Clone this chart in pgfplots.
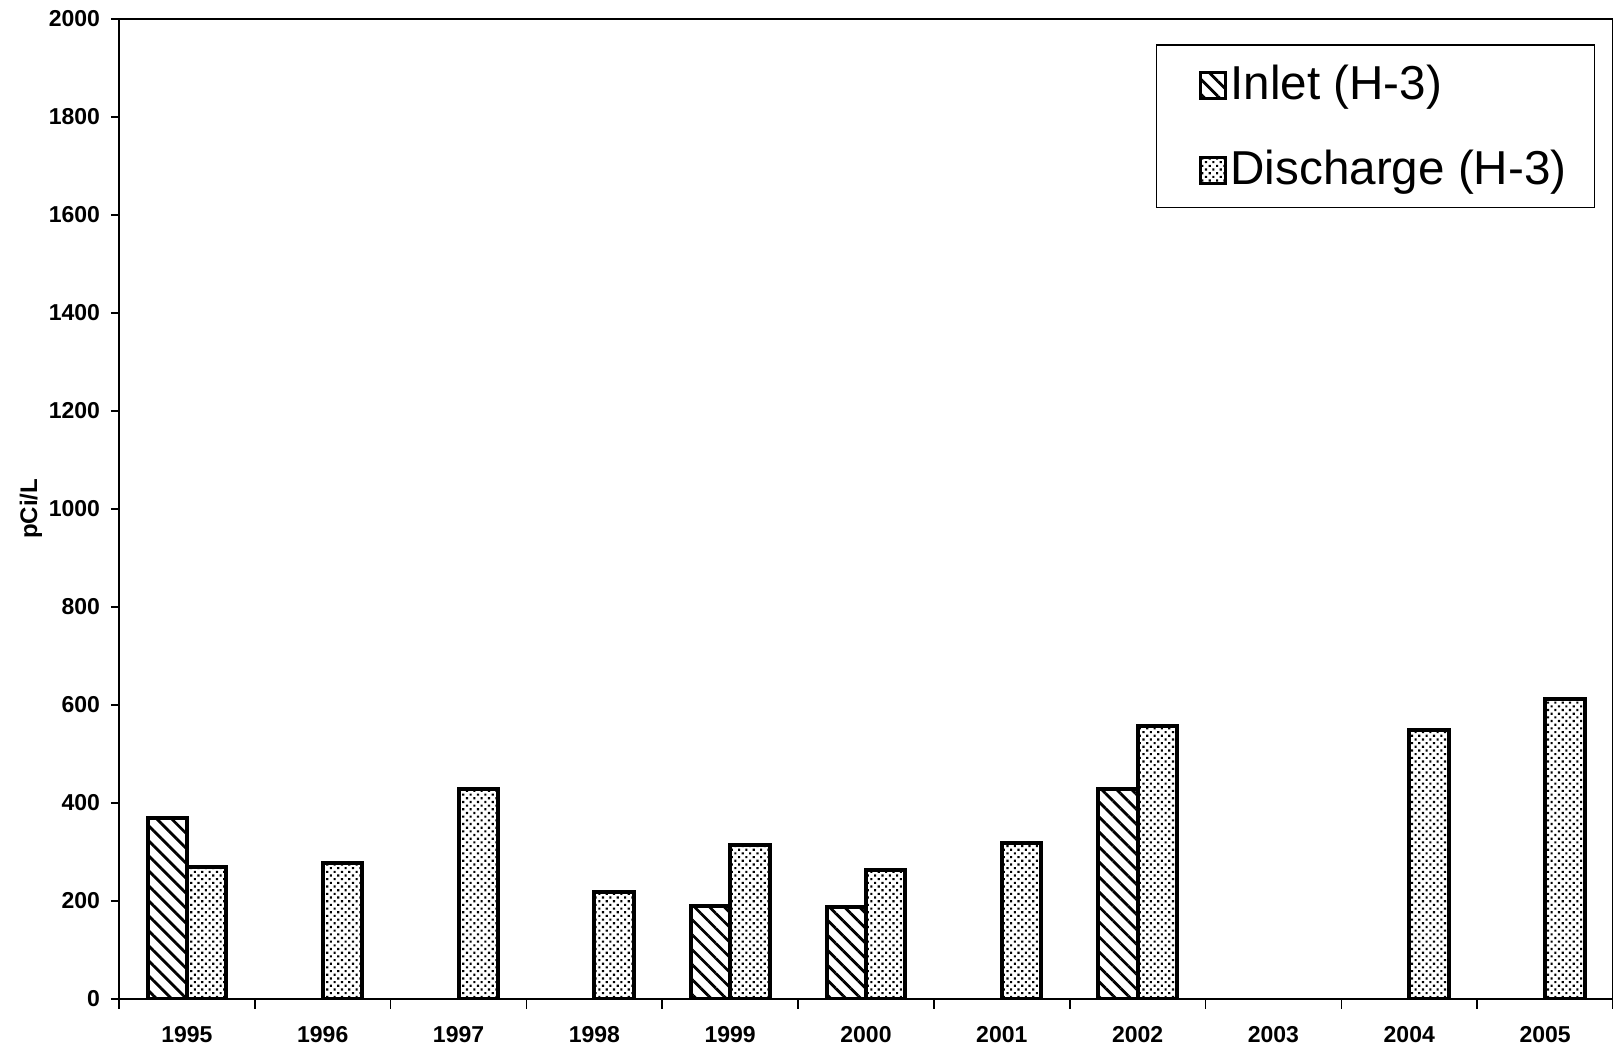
\documentclass[border=0pt]{standalone}
\usepackage{fontspec}
\setmainfont{Liberation Sans}
\usepackage{pgfplots}
\pgfplotsset{compat=1.18}
\usetikzlibrary{patterns.meta}
\begin{document}
\begin{tikzpicture}
\begin{axis}[
  name=main,
  at={(0,0)}, anchor=south west,
  scale only axis, width=747pt, height=490pt,
  xmin=-0.5, xmax=10.5, ymin=0, ymax=2000,
  ytick={0,200,...,2000},
  xtick={0,1,2,3,4,5,6,7,8,9,10},
  xticklabels={1995,1996,1997,1998,1999,2000,2001,2002,2003,2004,2005},
  minor xtick={-0.5,0.5,1.5,2.5,3.5,4.5,5.5,6.5,7.5,8.5,9.5,10.5},
  major x tick style={draw=none},
  tick pos=left,
  tick align=outside,
  tick style={black, line width=0.8pt},
  major tick length=4pt, minor tick length=5pt,
  axis line style={line width=1.1pt},
  /pgf/number format/assume math mode=true,
  /pgf/number format/set thousands separator={},
  ticklabel style={font=\fontsize{11.5}{13}\selectfont\bfseries},
  xticklabel style={yshift=-6pt},
  yticklabel style={xshift=-2pt},
  ylabel={pCi/L},
  every axis y label/.style={at={(axis description cs:-0.059,0.5)}, rotate=90, anchor=center, font=\fontsize{12}{14}\selectfont\bfseries},
  legend style={at={(0.988,0.974)}, anchor=north east, font=\fontsize{23.8}{28}\selectfont, draw=black, line width=0.6pt, inner xsep=12pt, inner ysep=7.8pt, row sep=20pt},
  legend cell align=left,
  legend image code/.code={
    \pgfpathrectangle{\pgfpoint{-11pt}{-6.5pt}}{\pgfpoint{23pt}{13pt}}%
    \pgfusepath{use as bounding box}%
    \draw[#1, line width=1.4pt] (-1pt,-7.5pt) rectangle (11.5pt,5.5pt);},
]
\addplot[ybar, bar width=19.7pt, bar shift=-9.85pt, draw=black, line width=2pt,
  pattern={Lines[angle=-45,distance=5.3pt,line width=1.4pt]}]
  coordinates {(0,370) (4,189) (5,187) (7,428)};
\addlegendentry{Inlet (H-3)}
\addplot[ybar, bar width=19.7pt, bar shift=9.85pt, draw=black, line width=2pt,
  pattern={Dots[angle=45,distance=2.6pt,radius=0.75pt]}]
  coordinates {(0,269) (1,277) (2,428) (3,218) (4,315) (5,264) (6,319) (7,558) (9,548) (10,613)};
\addlegendentry{Discharge (H-3)}
\end{axis}
\pgfresetboundingbox
\path[use as bounding box] (main.south west) ++(-59.5pt,-26.5pt) rectangle ++(806.5pt,526pt);
\end{tikzpicture}
\end{document}
